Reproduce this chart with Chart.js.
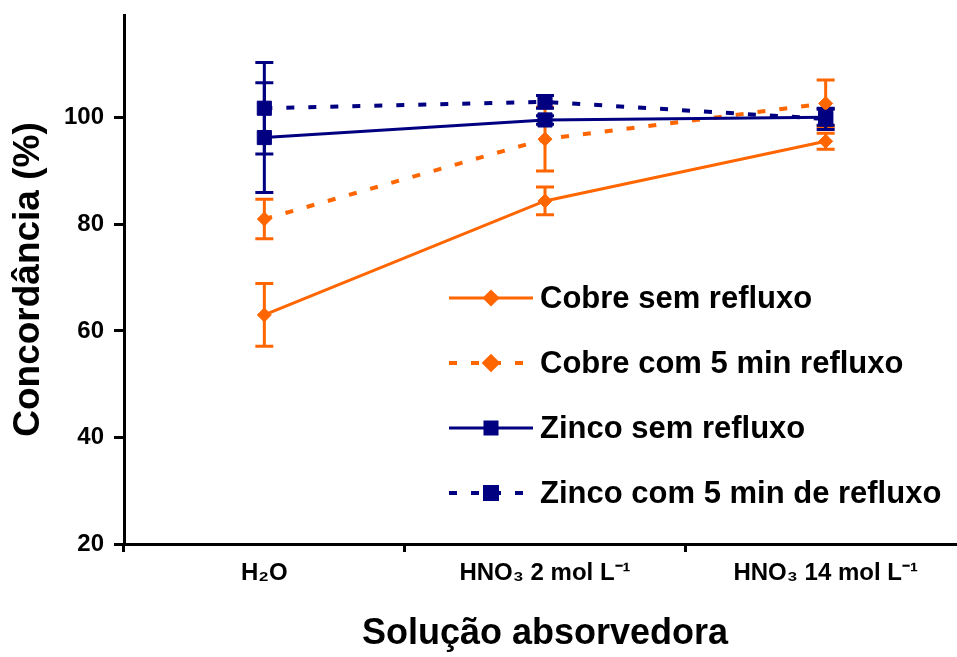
<!DOCTYPE html>
<html>
<head>
<meta charset="utf-8">
<script src="https://cdn.jsdelivr.net/npm/chart.js@4/dist/chart.umd.min.js"></script>
<style>
  html, body { margin: 0; padding: 0; background: #ffffff; overflow: hidden; }
  #wrap { width: 957px; height: 657px; }
</style>
</head>
<body>
<div id="wrap"><canvas id="c" width="957" height="657"></canvas></div>
<script>
// ---- data ----
const categories = ['H\u2082O', 'HNO\u2083 2 mol L\u207B\u00B9', 'HNO\u2083 14 mol L\u207B\u00B9'];
const seriesLabels = ['Cobre sem refluxo', 'Cobre com 5 min refluxo', 'Zinco sem refluxo', 'Zinco com 5 min de refluxo'];
const cobreSemRefluxo = [63.0, 84.4, 95.6];
const cobreSemRefluxoErr = [5.9, 2.6, 1.5];
const cobreCom5Min = [81.0, 96.0, 102.7];
const cobreCom5MinErr = [3.7, 6.0, 4.4];
const zincoSemRefluxo = [96.3, 99.6, 100.1];
const zincoSemRefluxoErr = [10.3, 0.8, 1.5];
const zincoCom5Min = [101.8, 103.0, 99.8];
const zincoCom5MinErr = [8.6, 1.2, 2.0];
const yTicks = [20, 40, 60, 80, 100];
const yMin = 20;
const yMax = 119.3;
const xTitle = 'Solução absorvedora';
const yTitle = 'Concordância (%)';

// ---- styles ----
const ORANGE = '#FF6600';
const NAVY = '#000080';
const FONT = "'Liberation Sans', Arial, Helvetica, sans-serif";
const DASH = [8, 14];

function makeDataset(label, data, errors, color, dashed, pointStyle, radius, order) {
  return {
    label: label,
    data: data,
    errors: errors,
    borderColor: color,
    backgroundColor: color,
    borderWidth: dashed ? 4 : 3,
    borderDash: dashed ? DASH : [],
    pointStyle: pointStyle,
    pointRadius: radius,
    pointHoverRadius: radius,
    pointBorderWidth: 1,
    pointBackgroundColor: color,
    pointBorderColor: color,
    tension: 0,
    fill: false,
    clip: false,
    order: order
  };
}

const datasets = [
  makeDataset(seriesLabels[0], cobreSemRefluxo, cobreSemRefluxoErr, ORANGE, false, 'rectRot', 7, 1),
  makeDataset(seriesLabels[1], cobreCom5Min, cobreCom5MinErr, ORANGE, true, 'rectRot', 7, 1),
  makeDataset(seriesLabels[2], zincoSemRefluxo, zincoSemRefluxoErr, NAVY, false, 'rect', 10, 0),
  makeDataset(seriesLabels[3], zincoCom5Min, zincoCom5MinErr, NAVY, true, 'rect', 10, 0)
];

// the x axis of the reference runs a little past the right edge of the picture
const extendRightPlugin = {
  id: 'extendRight',
  afterLayout(chart) {
    const ext = 9;
    const xs = chart.scales.x;
    xs.right += ext;
    xs.width += ext;
    chart.chartArea.right += ext;
    chart.chartArea.width += ext;
    xs.configure();
  }
};

// error bars drawn through the scales
const errorBarPlugin = {
  id: 'errorBars',
  beforeDatasetsDraw(chart) {
    const ctx = chart.ctx;
    const yScale = chart.scales.y;
    ctx.save();
    chart.data.datasets.forEach((ds, di) => {
      const meta = chart.getDatasetMeta(di);
      if (!ds.errors) return;
      ctx.strokeStyle = ds.borderColor;
      ctx.lineWidth = 3;
      ctx.setLineDash([]);
      meta.data.forEach((pt, i) => {
        const v = ds.data[i], e = ds.errors[i];
        const x = pt.x;
        const yTop = yScale.getPixelForValue(v + e);
        const yBot = yScale.getPixelForValue(v - e);
        ctx.beginPath();
        ctx.moveTo(x, yTop); ctx.lineTo(x, yBot);
        ctx.moveTo(x - 9, yTop); ctx.lineTo(x + 9, yTop);
        ctx.moveTo(x - 9, yBot); ctx.lineTo(x + 9, yBot);
        ctx.stroke();
      });
    });
    ctx.restore();
  }
};

// legend drawn inside the plot area
const insideLegendPlugin = {
  id: 'insideLegend',
  afterDraw(chart) {
    const ctx = chart.ctx;
    const area = chart.chartArea;
    const x0 = area.left + 325;
    const lineLen = 84;
    const y0 = area.top + 283;
    const step = 65;
    ctx.save();
    chart.data.datasets.forEach((ds, i) => {
      const y = y0 + i * step;
      ctx.strokeStyle = ds.borderColor;
      ctx.lineWidth = ds.borderWidth;
      ctx.setLineDash(ds.borderDash && ds.borderDash.length ? ds.borderDash : []);
      ctx.beginPath();
      ctx.moveTo(x0, y);
      ctx.lineTo(x0 + lineLen, y);
      ctx.stroke();
      ctx.setLineDash([]);
      ctx.fillStyle = ds.pointBackgroundColor;
      ctx.strokeStyle = ds.pointBorderColor;
      Chart.helpers.drawPoint(ctx, {
        pointStyle: ds.pointStyle,
        radius: ds.pointStyle === 'rect' ? 8.5 : 6.5,
        rotation: 0,
        borderWidth: 1
      }, x0 + lineLen / 2, y);
      ctx.fillStyle = '#000000';
      ctx.font = 'bold 31px ' + FONT;
      ctx.textAlign = 'left';
      ctx.textBaseline = 'middle';
      ctx.fillText(ds.label, x0 + lineLen + 7, y + 1);
    });
    ctx.restore();
  }
};

new Chart(document.getElementById('c'), {
  type: 'line',
  data: { labels: categories, datasets: datasets },
  options: {
    responsive: false,
    devicePixelRatio: 1,
    animation: false,
    events: [],
    layout: { autoPadding: false, padding: { top: 15, right: 0, left: 0, bottom: 0 } },
    plugins: {
      legend: { display: false },
      tooltip: { enabled: false }
    },
    scales: {
      x: {
        type: 'category',
        offset: true,
        afterFit(scale) {
          scale.height = 113;
          scale.paddingLeft = 0; scale.paddingRight = 0;
          scale.paddingTop = 0; scale.paddingBottom = 0;
        },
        grid: {
          offset: true,
          drawOnChartArea: false,
          drawTicks: true,
          tickLength: 8,
          tickWidth: 3,
          tickColor: '#000000',
          color: '#000000',
          lineWidth: 3
        },
        border: { display: true, color: '#000000', width: 3 },
        ticks: {
          color: '#000000',
          font: { family: FONT, size: 24, weight: 'bold' },
          padding: 7,
          maxRotation: 0,
          autoSkip: false
        },
        title: {
          display: true,
          text: xTitle,
          color: '#000000',
          font: { family: FONT, size: 36, weight: 'bold' },
          padding: { top: 0, bottom: 1 }
        }
      },
      y: {
        type: 'linear',
        min: yMin,
        max: yMax,
        afterFit(scale) {
          scale.width = 124;
          scale.paddingTop = 0; scale.paddingBottom = 0;
          scale.paddingLeft = 0; scale.paddingRight = 0;
        },
        afterBuildTicks(scale) { scale.ticks = yTicks.map(v => ({ value: v })); },
        grid: {
          drawOnChartArea: false,
          drawTicks: true,
          tickLength: 10,
          tickWidth: 3,
          tickColor: '#000000',
          color: '#000000',
          lineWidth: 3
        },
        border: { display: true, color: '#000000', width: 3 },
        ticks: {
          color: '#000000',
          font: { family: FONT, size: 24, weight: 'bold' },
          padding: 10
        },
        title: {
          display: true,
          text: yTitle,
          color: '#000000',
          font: { family: FONT, size: 37, weight: 'bold' },
          padding: { top: 7, bottom: 0 }
        }
      }
    }
  },
  plugins: [extendRightPlugin, errorBarPlugin, insideLegendPlugin]
});
</script>
</body>
</html>
